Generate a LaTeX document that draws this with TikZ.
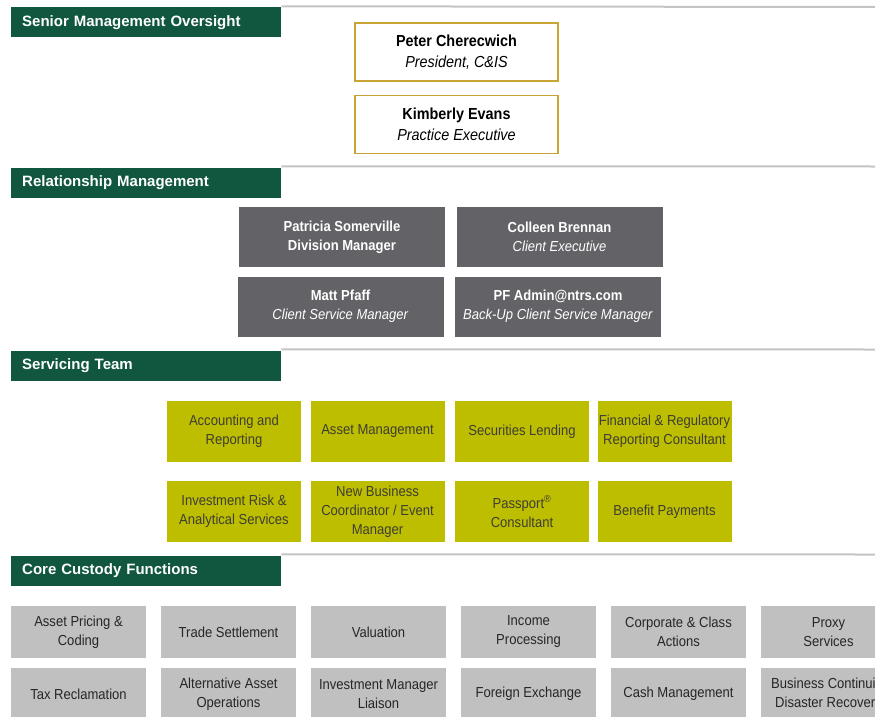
\documentclass[tikz,border=0pt]{standalone}
\usepackage{fontspec}
\setmainfont{Liberation Sans}[FakeStretch=0.9]
\newfontfamily\barfont{Liberation Sans}
\usepackage{xcolor}
\definecolor{ntgreen}{RGB}{17,87,64}
\definecolor{rulegrey}{RGB}{196,196,196}
\definecolor{ntgold}{RGB}{201,163,52}
\definecolor{slategrey}{RGB}{99,98,102}
\definecolor{oliveyellow}{RGB}{189,190,0}
\definecolor{oliveink}{RGB}{62,62,52}
\definecolor{silvergrey}{RGB}{192,192,192}
\definecolor{inkgrey}{RGB}{38,38,38}

\begin{document}
\begin{tikzpicture}[x=1pt,y=-1pt,
    bar/.style={fill=ntgreen,text=white,anchor=west,text width=248pt,
      inner xsep=11pt,inner ysep=0pt,minimum height=30pt,align=left,
      font=\barfont\bfseries\fontsize{15}{18}\selectfont},
    rule/.style={rulegrey,line width=2pt},
    sen/.style={draw=ntgold,line width=1.5pt,minimum width=203pt,
      minimum height=58pt,inner sep=0pt,align=center,text=black,
      font=\fontsize{16}{21}\selectfont},
    rel/.style={fill=slategrey,text=white,minimum width=206pt,
      minimum height=60pt,inner sep=0pt,align=center,
      font=\fontsize{14.5}{19}\selectfont},
    svc/.style={fill=oliveyellow,text=oliveink,minimum width=134pt,
      minimum height=61pt,inner sep=0pt,align=center,
      font=\fontsize{14.5}{19}\selectfont},
    core/.style={fill=silvergrey,text=inkgrey,minimum width=135pt,
      minimum height=52pt,inner sep=0pt,align=center,
      font=\fontsize{14.5}{19}\selectfont}]
  \useasboundingbox (0,0) rectangle (875,717);
  \fill[white] (0,0) rectangle (875,717);
  \clip (0,0) rectangle (875,717);

  % section bars
  \node[bar] (hdsenior) at (11,22.5) {Senior Management Oversight};
  \node[bar] (hdrel) at (11,183) {Relationship Management};
  \node[bar] (hdsvc) at (11,366) {Servicing Team};
  \node[bar] (hdcore) at (11,571) {Core Custody Functions};
  \draw[rule] ([yshift=1pt]hdsenior.north east) -- (875,7);
  \draw[rule] ([yshift=1.5pt]hdrel.north east) -- (875,166.5);
  \draw[rule] ([yshift=1.5pt]hdsvc.north east) -- (875,349.5);
  \draw[rule] ([yshift=1.5pt]hdcore.north east) -- (875,554.5);

  % senior management
  \node[sen] (cherecwich) at (456.5,52)
    {\textbf{Peter Cherecwich}\\\textit{President, C\&IS}};
  \node[sen] (evans) at (456.5,124.5)
    {\textbf{Kimberly Evans}\\\textit{Practice Executive}};

  % relationship management
  \node[rel] (somerville) at (342,237)
    {\textbf{Patricia Somerville}\\\textbf{Division Manager}};
  \node[rel] (brennan) at (559.5,237)
    {\textbf{Colleen Brennan}\\\textit{Client Executive}};
  \node[rel] (pfaff) at (340.5,306.5)
    {\textbf{Matt Pfaff}\\\textit{Client Service Manager}};
  \node[rel] (pfadmin) at (558,306.5)
    {\textbf{PF Admin@ntrs.com}\\\textit{Back-Up Client Service Manager}};

  % servicing team
  \node[svc] (accounting) at (234,431.5) {Accounting and\\Reporting};
  \node[svc] (assetmgmt) at (377.5,431.5) {Asset Management};
  \node[svc] (seclending) at (522,431.5) {Securities Lending};
  \node[svc] (regreport) at (664.5,431.5) {Financial \& Regulatory\\Reporting Consultant};
  \node[svc] (invrisk) at (234,511.5) {Investment Risk \&\\Analytical Services};
  \node[svc] (newbiz) at (377.5,511.5) {New Business\\Coordinator / Event\\Manager};
  \node[svc] (passport) at (522,511.5) {Passport\textsuperscript{\textregistered}\\Consultant};
  \node[svc] (benefits) at (664.5,511.5) {Benefit Payments};

  % core custody
  \node[core] (pricing) at (78.5,632) {Asset Pricing \&\\Coding};
  \node[core] (settlement) at (228.5,632) {Trade Settlement};
  \node[core] (valuation) at (378.5,632) {Valuation};
  \node[core] (income) at (528.5,632) {Income\\Processing};
  \node[core] (corpactions) at (678.5,632) {Corporate \& Class\\Actions};
  \node[core] (proxy) at (828.5,632) {Proxy\\Services};
  \node[core] (taxreclaim) at (78.5,694) {Tax Reclamation};
  \node[core] (altasset) at (228.5,694) {Alternative Asset\\Operations};
  \node[core] (liaison) at (378.5,694) {Investment Manager\\Liaison};
  \node[core] (fx) at (528.5,694) {Foreign Exchange};
  \node[core] (cash) at (678.5,694) {Cash Management};
  \node[core] (continuity) at (828.5,694) {Business Continuity\\Disaster Recovery};
\end{tikzpicture}
\end{document}
